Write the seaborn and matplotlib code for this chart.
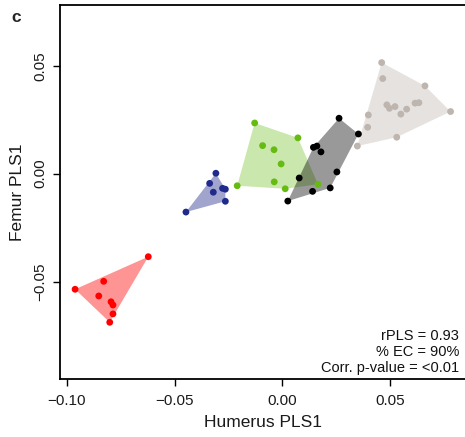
import numpy as np
import pandas as pd
import matplotlib
matplotlib.use("Agg")
import matplotlib.pyplot as plt
import seaborn as sns

# ---- data ----
red_x = [-0.0622, -0.0962, -0.0829, -0.0852, -0.0795, -0.0786, -0.0786, -0.0801]
red_y = [-0.0385, -0.0536, -0.0499, -0.0567, -0.0594, -0.0609, -0.0650, -0.0689]

blue_x = [-0.0308, -0.0337, -0.0320, -0.0277, -0.0264, -0.0264, -0.0447]
blue_y = [0.0002, -0.0045, -0.0086, -0.0068, -0.0072, -0.0128, -0.0178]

green_x = [-0.0128, 0.0073, -0.0091, -0.0038, -0.0005, -0.0209, -0.0037, 0.0014, 0.0166]
green_y = [0.0235, 0.0166, 0.0130, 0.0111, 0.0045, -0.0056, -0.0038, -0.0070, -0.0049]

black_x = [0.0264, 0.0354, 0.0145, 0.0161, 0.0180, 0.0254, 0.0079, 0.0141, 0.0223, 0.0026]
black_y = [0.0257, 0.0184, 0.0122, 0.0128, 0.0101, 0.0008, -0.0020, -0.0082, -0.0066, -0.0127]

grey_x = [0.0462, 0.0467, 0.0663, 0.0486, 0.0498, 0.0524, 0.0551, 0.0578, 0.0617, 0.0635,
          0.0782, 0.0400, 0.0397, 0.0532, 0.0349]
grey_y = [0.0515, 0.0441, 0.0407, 0.0319, 0.0303, 0.0311, 0.0276, 0.0299, 0.0327, 0.0329,
          0.0288, 0.0272, 0.0215, 0.0169, 0.0128]

groups = ["red", "blue", "green", "black", "grey"]
point_colors = {"red": "#FF0000", "blue": "#1F2A8C", "green": "#66BB11",
                "black": "#000000", "grey": "#BDB5AE"}
fill_colors = {"red": "#FF0000", "blue": "#1F2A8C", "green": "#7CC432",
               "black": "#000000", "grey": "#BDB5AE"}
fill_alpha = {"red": 0.42, "blue": 0.42, "green": 0.40, "black": 0.40, "grey": 0.38}

annot_lines = ["rPLS = 0.93", "% EC = 90%", "Corr. p-value = <0.01"]
xticks = [-0.10, -0.05, 0.00, 0.05]
yticks = [-0.05, 0.00, 0.05]

xs = {"red": red_x, "blue": blue_x, "green": green_x, "black": black_x, "grey": grey_x}
ys = {"red": red_y, "blue": blue_y, "green": green_y, "black": black_y, "grey": grey_y}

df = pd.concat([pd.DataFrame({"x": xs[g], "y": ys[g], "group": g}) for g in groups],
               ignore_index=True)


def convex_hull(pts):
    pts = sorted(set(map(tuple, pts)))
    if len(pts) <= 2:
        return pts

    def cross(o, a, b):
        return (a[0] - o[0]) * (b[1] - o[1]) - (a[1] - o[1]) * (b[0] - o[0])
    lower = []
    for p in pts:
        while len(lower) >= 2 and cross(lower[-2], lower[-1], p) <= 0:
            lower.pop()
        lower.append(p)
    upper = []
    for p in reversed(pts):
        while len(upper) >= 2 and cross(upper[-2], upper[-1], p) <= 0:
            upper.pop()
        upper.append(p)
    return lower[:-1] + upper[:-1]


sns.set_style("white")
plt.rcParams["font.family"] = ["Liberation Sans", "DejaVu Sans"]

fig = plt.figure(figsize=(4.65, 4.37), dpi=100)
ax = fig.add_axes([60 / 465, 1 - 379 / 437, 1 - 60 / 465, (379 - 5) / 437])

for g in groups:
    sub = df[df.group == g]
    hull = convex_hull(sub[["x", "y"]].values)
    poly = plt.Polygon(hull, closed=True, facecolor=fill_colors[g],
                       alpha=fill_alpha[g], edgecolor="none", zorder=1)
    ax.add_patch(poly)

sns.scatterplot(data=df, x="x", y="y", hue="group", palette=point_colors,
                hue_order=groups, s=24, edgecolor="none", legend=False, ax=ax, zorder=3)

ax.set_xlim(-0.1032, 0.0849)
ax.set_ylim(-0.0952, 0.0782)
ax.set_xticks(xticks)
ax.set_xticklabels(["\u22120.10", "\u22120.05", "0.00", "0.05"])
ax.set_yticks(yticks)
ax.set_yticklabels(["\u22120.05", "0.00", "0.05"], rotation=90, va="center")

for s in ["left", "top", "bottom"]:
    ax.spines[s].set_visible(True)
    ax.spines[s].set_color("black")
    ax.spines[s].set_linewidth(1.3)
ax.spines["right"].set_visible(False)

ax.tick_params(axis="both", which="both", direction="out", length=5, width=1,
               color="black", labelsize=11, labelcolor="#1a1a1a", bottom=True, left=True)
ax.tick_params(axis="x", pad=6)
ax.tick_params(axis="y", pad=4)
ax.set_xlabel("Humerus PLS1", fontsize=12.5, color="#1a1a1a", labelpad=5)
ax.set_ylabel("Femur PLS1", fontsize=12.5, color="#1a1a1a", labelpad=6)

ax.text(0.985, 0.012, "\n".join(annot_lines), transform=ax.transAxes,
        ha="right", va="bottom", fontsize=10.5, linespacing=1.15, color="#111111")

fig.text(16 / 465, 1 - 17 / 437, "c", fontsize=12.5, fontweight="bold", va="center", ha="center")

fig.savefig("out.png", dpi=100)
